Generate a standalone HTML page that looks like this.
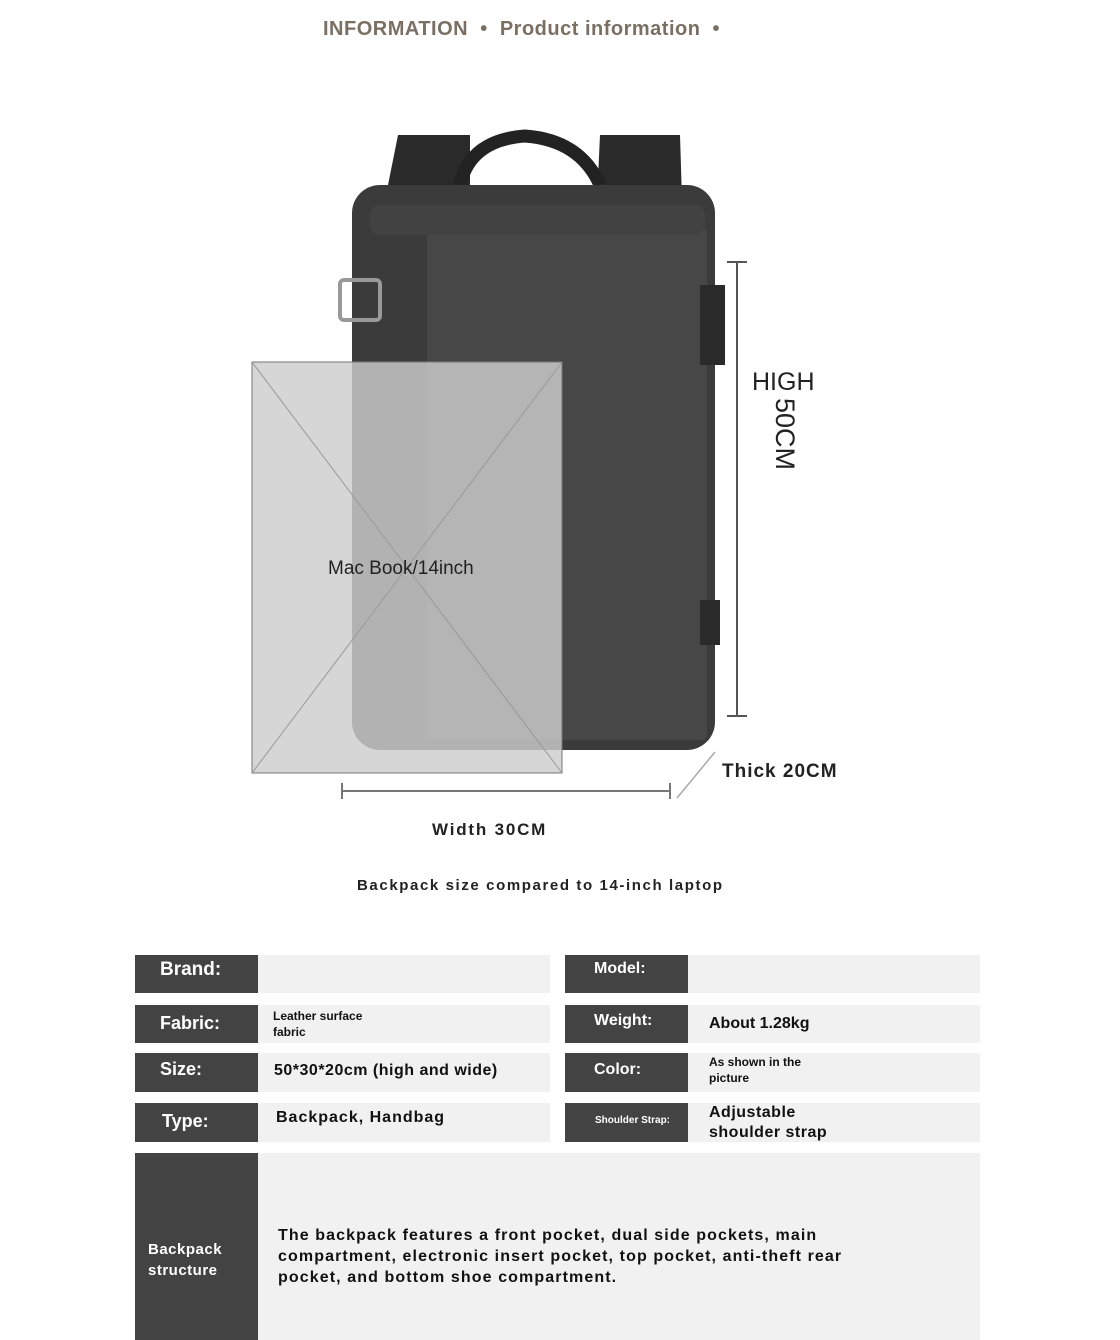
<!DOCTYPE html>
<html><head><meta charset="utf-8"><style>
body{margin:0;background:#fff;}
#w{position:relative;width:1120px;height:1340px;overflow:hidden;font-family:"Liberation Sans",sans-serif;background:#fff;}
.a{position:absolute;}
.lab{position:absolute;background:#434343;color:#fff;font-weight:bold;font-size:18px;box-sizing:border-box;padding-left:25px;}
.val{position:absolute;background:#f1f1f1;font-weight:bold;color:#111;}
</style></head><body><div id="w">
<div class="a" style="left:323px;top:18px;font-size:20px;font-weight:bold;color:#7a6f62;letter-spacing:0.5px">INFORMATION &nbsp;• &nbsp;Product information &nbsp;•</div>
<svg class="a" style="left:0;top:0" width="1120" height="900">
<path d="M385 200 L398 135 L470 135 L470 200Z" fill="#2a2a2a"/>
<path d="M597 200 L600 135 L680 135 L682 200Z" fill="#2a2a2a"/>
<path d="M460 185 Q470 140 525 136 Q580 140 600 185" fill="none" stroke="#222" stroke-width="13"/>
<rect x="352" y="185" width="363" height="565" rx="28" fill="#3b3b3b"/>
<rect x="427" y="228" width="280" height="512" rx="6" fill="#474747"/>
<rect x="370" y="205" width="335" height="30" rx="10" fill="#424242"/>
<rect x="340" y="280" width="40" height="40" rx="4" fill="none" stroke="#999" stroke-width="4"/>
<rect x="700" y="285" width="25" height="80" fill="#2a2a2a"/>
<rect x="700" y="600" width="20" height="45" fill="#2a2a2a"/>
<rect x="252" y="362" width="310" height="411" fill="rgba(205,205,205,0.82)" stroke="#777" stroke-width="1"/>
<line x1="252" y1="362" x2="562" y2="773" stroke="#999"/>
<line x1="562" y1="362" x2="252" y2="773" stroke="#999"/>
<line x1="737" y1="262" x2="737" y2="716" stroke="#555" stroke-width="2"/>
<line x1="727" y1="262" x2="747" y2="262" stroke="#555" stroke-width="2"/>
<line x1="727" y1="716" x2="747" y2="716" stroke="#555" stroke-width="2"/>
<line x1="342" y1="791" x2="670" y2="791" stroke="#777" stroke-width="2"/>
<line x1="342" y1="783" x2="342" y2="799" stroke="#777" stroke-width="2"/>
<line x1="670" y1="783" x2="670" y2="799" stroke="#777" stroke-width="2"/>
<line x1="677" y1="798" x2="715" y2="752" stroke="#aaa" stroke-width="1.5"/>
</svg>
<div class="a" style="left:328px;top:558px;font-size:19px;color:#222">Mac Book/14inch</div>
<div class="a" style="left:752px;top:368px;font-size:25px;color:#222">HIGH</div>
<div class="a" style="font-size:27px;color:#222;transform:rotate(90deg);transform-origin:left top;left:800px;top:398px">50CM</div>
<div class="a" style="left:722px;top:761px;font-size:19px;font-weight:bold;color:#222;letter-spacing:1px">Thick 20CM</div>
<div class="a" style="left:432px;top:820px;font-size:17px;font-weight:bold;color:#222;letter-spacing:1.8px">Width 30CM</div>
<div class="a" style="left:357px;top:877px;font-size:15px;font-weight:bold;color:#222;letter-spacing:1.6px">Backpack size compared to 14-inch laptop</div>

<div class="lab" style="left:135px;top:955px;width:123px;height:38px;padding-top:4px;font-size:19px">Brand:</div>
<div class="val" style="left:258px;top:955px;width:292px;height:38px"></div>
<div class="lab" style="left:565px;top:955px;width:123px;height:38px;padding-top:5px;font-size:16px;padding-left:29px">Model:</div>
<div class="val" style="left:688px;top:955px;width:292px;height:38px"></div>

<div class="lab" style="left:135px;top:1005px;width:123px;height:38px;padding-top:8px">Fabric:</div>
<div class="val" style="left:258px;top:1005px;width:292px;height:38px;font-size:12px;padding:3px 0 0 15px;box-sizing:border-box;line-height:16px">Leather surface<br>fabric</div>
<div class="lab" style="left:565px;top:1005px;width:123px;height:38px;padding-top:7px;padding-left:29px;font-size:16px">Weight:</div>
<div class="val" style="left:688px;top:1005px;width:292px;height:38px;font-size:16px;padding:10px 0 0 21px;box-sizing:border-box">About 1.28kg</div>

<div class="lab" style="left:135px;top:1053px;width:123px;height:39px;padding-top:6px">Size:</div>
<div class="val" style="left:258px;top:1053px;width:292px;height:39px;font-size:16px;padding:9px 0 0 16px;box-sizing:border-box;letter-spacing:0.5px">50*30*20cm (high and wide)</div>
<div class="lab" style="left:565px;top:1053px;width:123px;height:39px;padding-top:8px;padding-left:29px;font-size:16px">Color:</div>
<div class="val" style="left:688px;top:1053px;width:292px;height:39px;font-size:12px;padding:1px 0 0 21px;box-sizing:border-box;line-height:16px">As shown in the<br>picture</div>

<div class="lab" style="left:135px;top:1103px;width:123px;height:39px;padding-top:8px;padding-left:27px">Type:</div>
<div class="val" style="left:258px;top:1103px;width:292px;height:39px;font-size:16px;padding:6px 0 0 18px;box-sizing:border-box;letter-spacing:1px">Backpack, Handbag</div>
<div class="lab" style="left:565px;top:1103px;width:123px;height:39px;padding-top:12px;padding-left:30px;font-size:10px">Shoulder Strap:</div>
<div class="val" style="left:688px;top:1103px;width:292px;height:39px;font-size:16px;padding:0 0 0 21px;box-sizing:border-box;line-height:20px;letter-spacing:0.5px">Adjustable<br>shoulder strap</div>

<div class="lab" style="left:135px;top:1153px;width:123px;height:187px;padding:86px 0 0 13px;font-size:15px;line-height:21px;letter-spacing:0.5px">Backpack<br>structure</div>
<div class="val" style="left:258px;top:1153px;width:722px;height:187px;font-size:16px;padding:72px 0 0 20px;box-sizing:border-box;line-height:21px;letter-spacing:1.1px">The backpack features a front pocket, dual side pockets, main<br>compartment, electronic insert pocket, top pocket, anti-theft rear<br>pocket, and bottom shoe compartment.</div>
</div></body></html>
